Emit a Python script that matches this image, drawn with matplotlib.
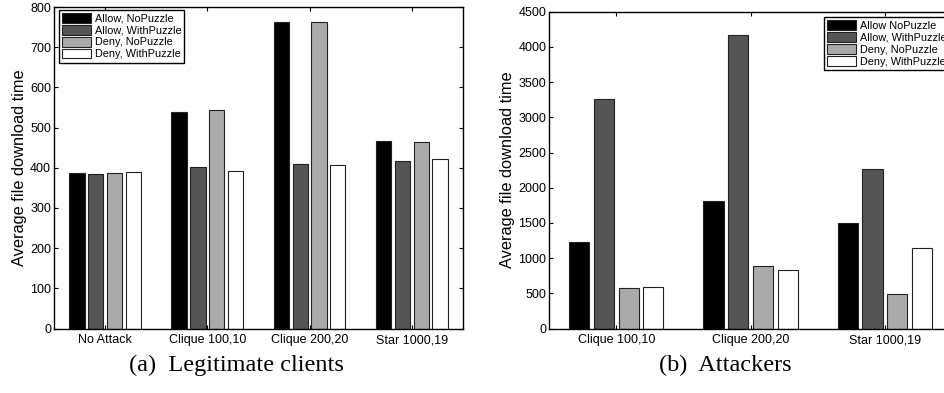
import numpy as np
import matplotlib.pyplot as plt

plt.rcParams['font.family'] = ['Liberation Sans', 'DejaVu Sans']

legit_groups = ['No Attack', 'Clique 100,10', 'Clique 200,20', 'Star 1000,19']
legit_allow_nopz = [387, 540, 762, 466]
legit_allow_pz = [385, 402, 410, 416]
legit_deny_nopz = [388, 544, 762, 463]
legit_deny_pz = [389, 393, 406, 421]

att_groups = ['Clique 100,10', 'Clique 200,20', 'Star 1000,19']
att_allow_nopz = [1227, 1809, 1497]
att_allow_pz = [3254, 4168, 2268]
att_deny_nopz = [583, 885, 497]
att_deny_pz = [591, 838, 1151]

legit_labels = ['Allow, NoPuzzle', 'Allow, WithPuzzle', 'Deny, NoPuzzle', 'Deny, WithPuzzle']
att_labels = ['Allow NoPuzzle', 'Allow, WithPuzzle', 'Deny, NoPuzzle', 'Deny, WithPuzzle']
colors = ['#000000', '#555555', '#aaaaaa', '#ffffff']

fig = plt.figure(figsize=(9.45, 3.93), dpi=100)
ax1 = fig.add_axes([0.0571, 0.164, 0.4328, 0.818])
ax2 = fig.add_axes([0.581, 0.164, 0.4265, 0.806])


def draw(ax, groups, series, labels, ymax, yticks, leg_xy):
    x = np.arange(1, len(groups) + 1)
    step = 0.184
    width = 0.15
    for i, (vals, lab, c) in enumerate(zip(series, labels, colors)):
        ax.bar(x + (i - 1.5) * step, vals, width, color=c, edgecolor='#222222',
               linewidth=0.8, label=lab)
    ax.set_xlim(0.5, len(groups) + 0.5)
    ax.set_ylim(0, ymax)
    ax.set_xticks(x)
    ax.set_xticklabels(groups, fontsize=9)
    ax.set_yticks(yticks)
    ax.tick_params(axis='y', labelsize=9)
    ax.tick_params(top=True, right=True, direction='in', length=3, width=0.8, pad=2)
    ax.tick_params(axis='x', pad=4)
    for s in ax.spines.values():
        s.set_linewidth(1.0)
    ax.set_ylabel('Average file download time', fontsize=11.8, labelpad=2)
    leg = ax.legend(loc='upper left', bbox_to_anchor=leg_xy, fontsize=7.8,
                    handlelength=2.7, handleheight=1.0, labelspacing=0.12,
                    borderpad=0.3, handletextpad=0.3, borderaxespad=0,
                    fancybox=False, framealpha=1)
    leg.get_frame().set_edgecolor('black')
    leg.get_frame().set_linewidth(1.0)


draw(ax1, legit_groups, [legit_allow_nopz, legit_allow_pz, legit_deny_nopz, legit_deny_pz],
     legit_labels, 800, np.arange(0, 801, 100), (0.012, 0.991))
draw(ax2, att_groups, [att_allow_nopz, att_allow_pz, att_deny_nopz, att_deny_pz],
     att_labels, 4500, np.arange(0, 4501, 500), (0.682, 0.983))

fig.text(0.25, 0.069, '(a)  Legitimate clients', ha='center', va='center',
         fontsize=17.5, family='Liberation Serif')
fig.text(0.768, 0.069, '(b)  Attackers', ha='center', va='center',
         fontsize=17.5, family='Liberation Serif')

fig.savefig('out.png', dpi=100)
